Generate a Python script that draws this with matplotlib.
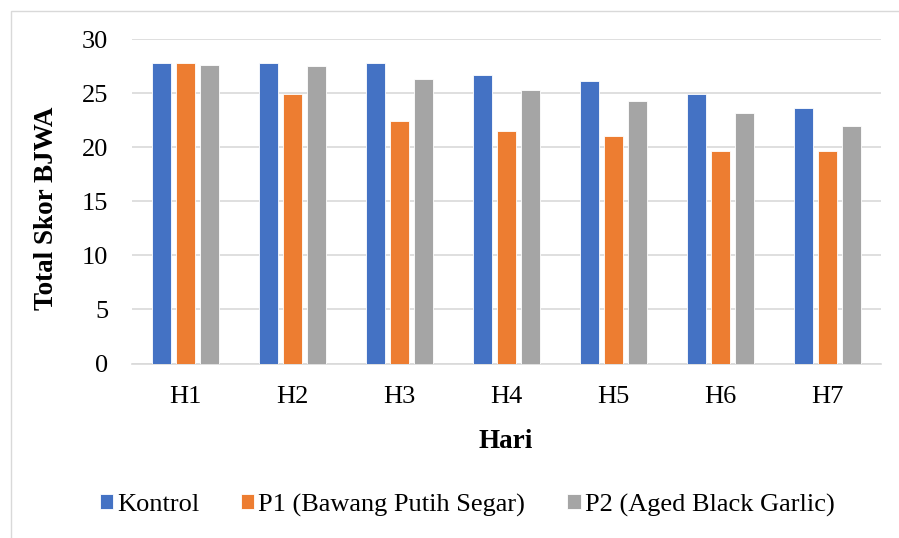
import matplotlib
matplotlib.use("Agg")
import matplotlib.pyplot as plt
import numpy as np
from matplotlib.patches import Rectangle

categories = ["H1", "H2", "H3", "H4", "H5", "H6", "H7"]
kontrol = [27.8, 27.8, 27.8, 26.7, 26.1, 24.9, 23.6]
p1 = [27.8, 24.9, 22.4, 21.5, 21.0, 19.6, 19.6]
p2 = [27.6, 27.5, 26.3, 25.3, 24.3, 23.2, 22.0]
series_names = ["Kontrol", "P1 (Bawang Putih Segar)", "P2 (Aged Black Garlic)"]
colors = ["#4472C4", "#ED7D31", "#A5A5A5"]
yticks = [0, 5, 10, 15, 20, 25, 30]

plt.rcParams['font.family'] = ['Liberation Serif', 'DejaVu Serif']

W, H = 899, 538
fig = plt.figure(figsize=(W / 100, H / 100), dpi=100)

# outer chart border
fig.patches.append(Rectangle((10.5 / W, -0.1), 1.2, 1 - 10.5 / H + 0.1,
                             transform=fig.transFigure, fill=False,
                             edgecolor="#d9d9d9", linewidth=1.0))

left, right, top, bottom = 132, 881, 39, 363.5
ax = fig.add_axes([left / W, 1 - bottom / H, (right - left) / W, (bottom - top) / H])

x = np.arange(len(categories))
bw = 0.178
step = 0.224
for i, (vals, c, name) in enumerate(zip([kontrol, p1, p2], colors, series_names)):
    ax.bar(x + (i - 1) * step, vals, width=bw, color=c, edgecolor="white",
           linewidth=0.6, label=name, zorder=3)

ax.set_xlim(-0.5, len(categories) - 0.5)
ax.set_ylim(0, 30)
ax.set_yticks(yticks)
ax.set_xticks(x)
ax.set_xticklabels(categories)
ax.yaxis.grid(True, color="#d9d9d9", linewidth=1.2, zorder=0)
ax.set_axisbelow(True)
for s in ["top", "right", "left"]:
    ax.spines[s].set_visible(False)
ax.spines["bottom"].set_color("#d9d9d9")
ax.spines["bottom"].set_linewidth(1.2)
ax.tick_params(axis="both", length=0, labelsize=19, colors="black")
ax.tick_params(axis="y", pad=17)
ax.tick_params(axis="x", pad=16.5)

fig.text(506 / W, 1 - 442 / H, "Hari", ha="center", va="center",
         fontsize=19.5, fontweight="bold")
fig.text(47 / W, 1 - 208 / H, "Total Skor BJWA", ha="center", va="center",
         rotation=90, fontsize=19.5, fontweight="bold")

leg = fig.legend(loc="center", bbox_to_anchor=(467 / W, 1 - 505 / H), ncol=3,
                 frameon=False, fontsize=19, handlelength=0.5, handleheight=0.5,
                 handletextpad=0.15, columnspacing=1.6)

fig.savefig("out.png", dpi=100)
